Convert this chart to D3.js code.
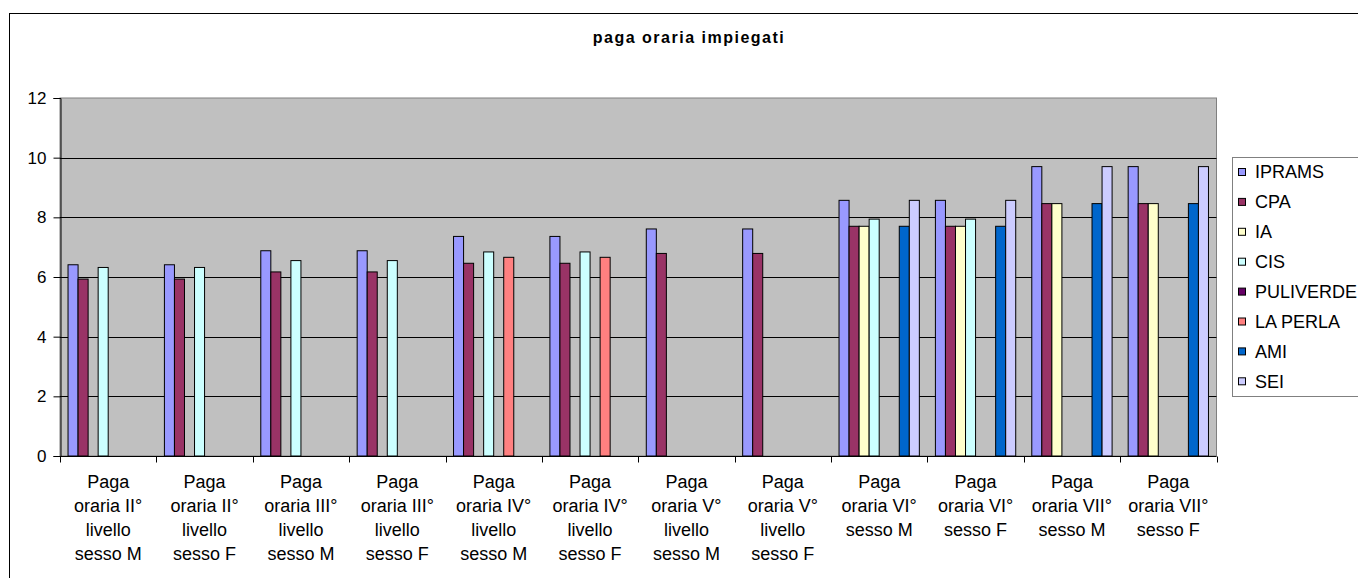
<!DOCTYPE html>
<html>
<head>
<meta charset="utf-8">
<script src="https://d3js.org/d3.v7.min.js"></script>
<style>
  body { margin: 0; padding: 0; background: #ffffff; overflow: hidden; }
  text { font-family: Arial, "Liberation Sans", sans-serif; fill: #000; }
</style>
</head>
<body>
<div id="chart"></div>
<script>
// categories (line breaks as in the original wrapped labels)
var categories = [
  "Paga\noraria II°\nlivello\nsesso M",
  "Paga\noraria II°\nlivello\nsesso F",
  "Paga\noraria III°\nlivello\nsesso M",
  "Paga\noraria III°\nlivello\nsesso F",
  "Paga\noraria IV°\nlivello\nsesso M",
  "Paga\noraria IV°\nlivello\nsesso F",
  "Paga\noraria V°\nlivello\nsesso M",
  "Paga\noraria V°\nlivello\nsesso F",
  "Paga\noraria VI°\nsesso M",
  "Paga\noraria VI°\nsesso F",
  "Paga\noraria VII°\nsesso M",
  "Paga\noraria VII°\nsesso F"
];

var seriesNames = ["IPRAMS", "CPA", "IA", "CIS", "PULIVERDE", "LA PERLA", "AMI", "SEI"];
var seriesColors = ["#9999FF", "#993366", "#FFFFCC", "#CCFFFF", "#660066", "#FF8080", "#0066CC", "#CCCCFF"];

// values per series, one per category (null = no bar)
var ipramsValues    = [6.41, 6.41, 6.88, 6.88, 7.36, 7.36, 7.61, 7.61, 8.57, 8.57, 9.70, 9.70];
var cpaValues       = [5.93, 5.93, 6.17, 6.17, 6.46, 6.46, 6.79, 6.79, 7.70, 7.70, 8.46, 8.46];
var iaValues        = [null, null, null, null, null, null, null, null, 7.70, 7.70, 8.46, 8.46];
var cisValues       = [6.32, 6.32, 6.55, 6.55, 6.84, 6.84, null, null, 7.94, 7.94, null, null];
var puliverdeValues = [null, null, null, null, null, null, null, null, null, null, null, null];
var laperlaValues   = [null, null, null, null, 6.66, 6.66, null, null, null, null, null, null];
var amiValues       = [null, null, null, null, null, null, null, null, 7.70, 7.70, 8.46, 8.46];
var seiValues       = [null, null, null, null, null, null, null, null, 8.57, 8.57, 9.70, 9.70];

var yTicks = [0, 2, 4, 6, 8, 10, 12];

var allValues = [ipramsValues, cpaValues, iaValues, cisValues, puliverdeValues, laperlaValues, amiValues, seiValues];

var width = 1358, height = 578;
var plot = { left: 60, top: 98, right: 1216.5, bottom: 456 };

var svg = d3.select("#chart").append("svg")
    .attr("width", width)
    .attr("height", height);

// outer chart frame (runs off the right and bottom of the picture)
svg.append("rect")
    .attr("x", 9.5).attr("y", 13.5)
    .attr("width", 1400).attr("height", 600)
    .attr("fill", "#fff")
    .attr("stroke", "#000");

svg.append("text")
    .attr("x", 689).attr("y", 43)
    .attr("text-anchor", "middle")
    .style("font-size", "16px")
    .style("font-weight", "bold")
    .style("letter-spacing", "1.5px")
    .text("paga oraria impiegati");

var x0 = d3.scaleBand()
    .domain(d3.range(categories.length))
    .range([plot.left, plot.right])
    .paddingInner(0).paddingOuter(0);

var x1 = d3.scaleBand()
    .domain(seriesNames)
    .range([0, x0.bandwidth()])
    .paddingInner(0).paddingOuter(0.8);

var y = d3.scaleLinear().domain([0, 12]).range([plot.bottom, plot.top]);

// plot background
svg.append("rect")
    .attr("x", plot.left).attr("y", plot.top)
    .attr("width", plot.right - plot.left)
    .attr("height", plot.bottom - plot.top)
    .attr("fill", "#C0C0C0")
    .attr("stroke", "#808080");

// gridlines
svg.append("g").selectAll("line")
    .data(yTicks.filter(function(d) { return d > 0 && d < 12; }))
    .enter().append("line")
    .attr("x1", plot.left).attr("x2", plot.right)
    .attr("y1", function(d) { return Math.round(y(d)) + 0.5; })
    .attr("y2", function(d) { return Math.round(y(d)) + 0.5; })
    .attr("stroke", "#000");

// bars
var barData = [];
allValues.forEach(function(vals, si) {
  vals.forEach(function(v, ci) {
    if (v !== null) barData.push({ s: seriesNames[si], c: ci, v: v, color: seriesColors[si] });
  });
});

svg.append("g").selectAll("rect")
    .data(barData)
    .enter().append("rect")
    .attr("x", function(d) { return x0(d.c) + x1(d.s); })
    .attr("y", function(d) { return y(d.v); })
    .attr("width", x1.bandwidth())
    .attr("height", function(d) { return y(0) - y(d.v); })
    .attr("fill", function(d) { return d.color; })
    .attr("stroke", "#000")
    .attr("stroke-width", 1);

// y axis
var yAxis = svg.append("g")
    .attr("transform", "translate(" + (plot.left + 0.5) + ",0)")
    .call(d3.axisLeft(y).tickValues(yTicks).tickSize(7).tickPadding(7).tickFormat(d3.format("d")));
yAxis.select(".domain").attr("stroke", "#000");
yAxis.selectAll("text").style("font-size", "17px").attr("font-family", null);

// x axis
var xAxis = svg.append("g")
    .attr("transform", "translate(0," + (plot.bottom + 0.5) + ")");
xAxis.append("line")
    .attr("x1", plot.left).attr("x2", plot.right)
    .attr("stroke", "#000");
xAxis.selectAll("line.tk")
    .data(d3.range(categories.length + 1))
    .enter().append("line")
    .attr("class", "tk")
    .attr("x1", function(d) { return Math.round(plot.left + d * x0.step()) + 0.5; })
    .attr("x2", function(d) { return Math.round(plot.left + d * x0.step()) + 0.5; })
    .attr("y1", 0).attr("y2", 6)
    .attr("stroke", "#000");

var labels = svg.append("g").selectAll("text")
    .data(categories)
    .enter().append("text")
    .attr("text-anchor", "middle")
    .style("font-size", "18px");
labels.each(function(d, i) {
  var t = d3.select(this);
  d.split("\n").forEach(function(line, j) {
    t.append("tspan")
      .attr("x", x0(i) + x0.bandwidth() / 2)
      .attr("y", 488 + j * 24)
      .text(line);
  });
});

// legend (box runs past the right edge)
var legend = svg.append("g");
legend.append("rect")
    .attr("x", 1232.5).attr("y", 157.5)
    .attr("width", 200).attr("height", 239)
    .attr("fill", "#fff")
    .attr("stroke", "#808080");

var items = legend.selectAll("g.item")
    .data(seriesNames)
    .enter().append("g")
    .attr("class", "item")
    .attr("transform", function(d, i) { return "translate(0," + (172 + i * 29.9) + ")"; });
items.append("rect")
    .attr("x", 1238.5).attr("y", -3.5)
    .attr("width", 7).attr("height", 7)
    .attr("fill", function(d, i) { return seriesColors[i]; })
    .attr("stroke", "#000");
items.append("text")
    .attr("x", 1255).attr("y", 0)
    .attr("dy", "0.35em")
    .style("font-size", "18px")
    .text(function(d) { return d; });
</script>
</body>
</html>
